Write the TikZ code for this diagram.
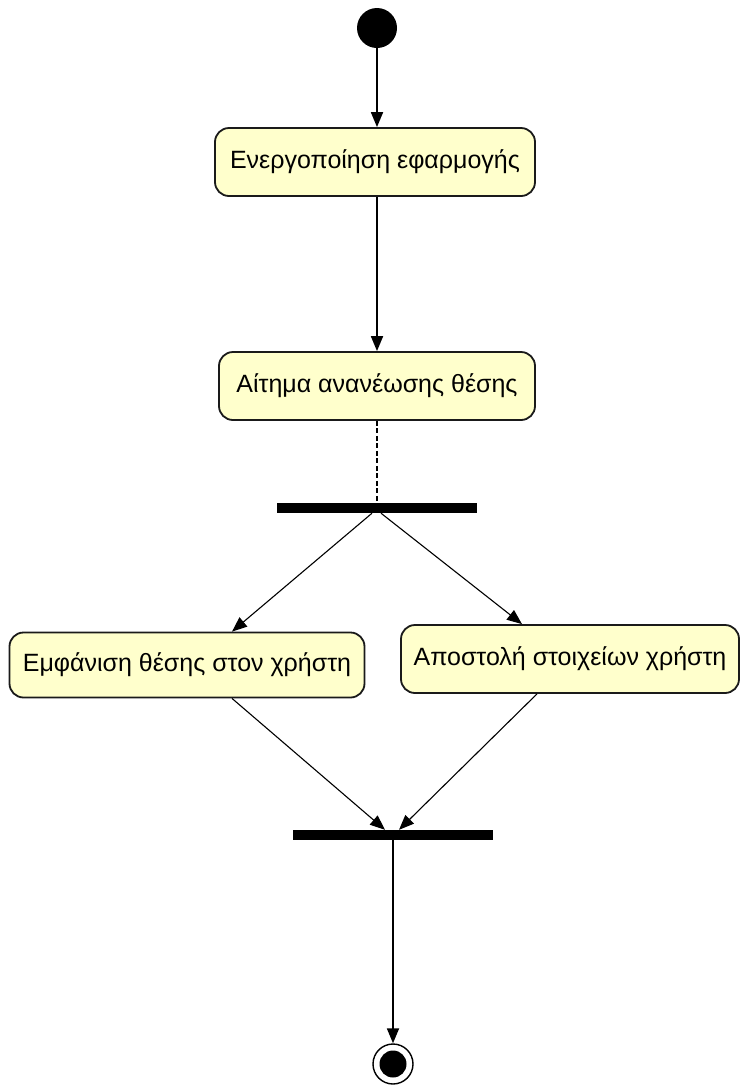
\documentclass[tikz,border=0pt]{standalone}
\usepackage{fontspec}
\setmainfont{Liberation Sans}
\usepackage{tikz}
\usetikzlibrary{arrows.meta}
\definecolor{actfill}{HTML}{FFFFCC}
\definecolor{actline}{HTML}{1A1A1A}

\tikzset{
  activity/.style={draw=actline, line width=1.8pt, fill=actfill, rounded corners=14pt,
    minimum height=68pt, inner sep=0pt, font=\fontsize{25}{30}\selectfont},
  syncbar/.style={fill=black, minimum width=200pt, minimum height=10pt, inner sep=0pt},
  flow/.style={line width=1.8pt, -{Triangle[length=15pt,width=12pt]}},
  thinflow/.style={line width=1.1pt, -{Triangle[length=15pt,width=12pt]}}
}

\begin{document}
\begin{tikzpicture}[x=1pt, y=-1pt]
  \useasboundingbox (0,0) rectangle (742,1088);
  \node[circle, fill=black, minimum size=40pt, inner sep=0pt] (start) at (377,28) {};
  \node[activity, minimum width=320pt] (launch) at (375,162) {Ενεργοποίηση εφαρμογής};
  \node[activity, minimum width=316pt] (refresh) at (377,386) {Αίτημα ανανέωσης θέσης};
  \node[syncbar] (fork) at (377,508) {};
  \node[activity, minimum width=355pt, minimum height=65pt] (show) at (187,665) {Εμφάνιση θέσης στον χρήστη};
  \node[activity, minimum width=338pt] (send) at (570,659) {Αποστολή στοιχείων χρήστη};
  \node[syncbar] (join) at (393,835) {};
  \node[circle, draw, line width=1.4pt, minimum size=40pt, inner sep=0pt] (stop) at (393,1064) {};
  \node[circle, fill=black, minimum size=27pt, inner sep=0pt] at (stop) {};

  \draw[flow] (start) -- (launch.north -| start);
  \draw[flow] (launch.south -| refresh) -- (refresh.north);
  \draw[line width=1.2pt, dash pattern=on 5pt off 2.5pt] (refresh.south) -- (fork.north);
  \draw[thinflow] ([xshift=-5pt]fork.south) -- ([xshift=45pt]show.north);
  \draw[thinflow] ([xshift=4pt]fork.south) -- ([xshift=-48pt]send.north);
  \draw[thinflow] ([xshift=45pt]show.south) -- ([xshift=-8pt]join.north);
  \draw[thinflow] ([xshift=-33pt]send.south) -- ([xshift=6pt]join.north);
  \draw[flow] (join.south -| stop) -- (stop.north);
\end{tikzpicture}
\end{document}
